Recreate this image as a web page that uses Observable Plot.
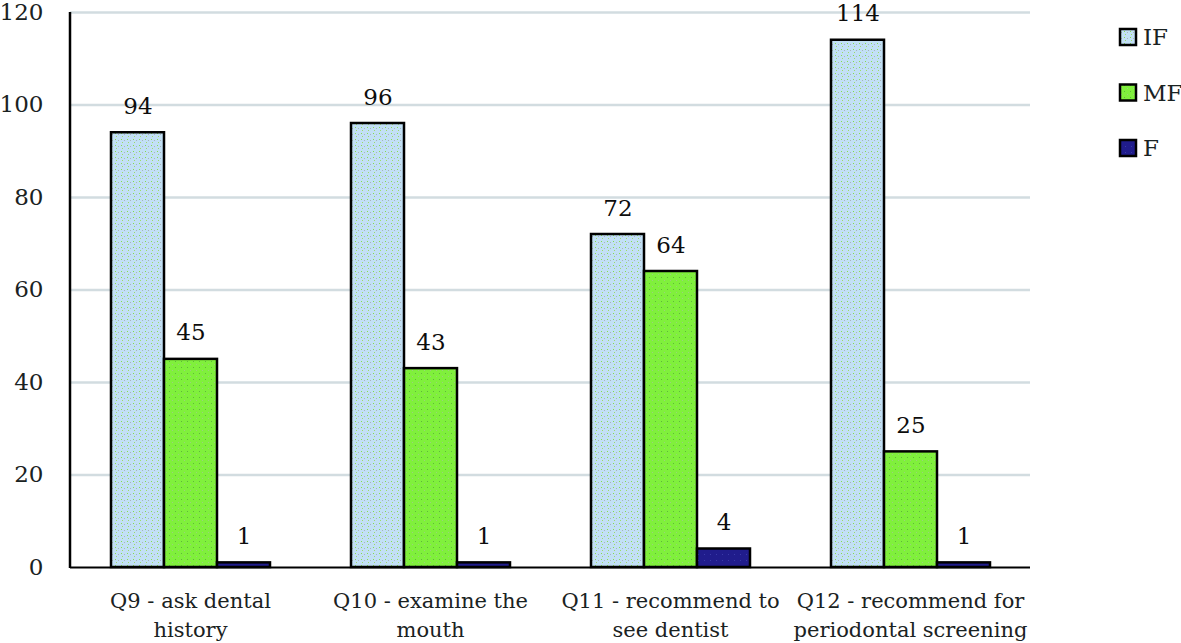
<!DOCTYPE html>
<html><head><meta charset="utf-8">
<script src="https://cdn.jsdelivr.net/npm/d3@7"></script>
<script src="https://cdn.jsdelivr.net/npm/@observablehq/plot@0.6"></script>
<style>
body{margin:0;background:#fff;}
#wrap{position:relative;width:1181px;height:643px;font-family:"DejaVu Serif",serif;color:#1c2626;}
#legend{position:absolute;left:1117px;top:0;}
</style></head><body>
<svg width="0" height="0" style="position:absolute">
  <defs>
    <pattern id="pIF" patternUnits="userSpaceOnUse" width="6" height="6">
      <rect width="6" height="6" fill="#c2e0f5"/>
      <rect x="1" y="1" width="1" height="1" fill="#86dc4e"/>
      <rect x="4" y="2" width="1" height="1" fill="#a9b4ba"/>
      <rect x="2" y="4" width="1" height="1" fill="#9fd86a"/>
    </pattern>
    <pattern id="pMF" patternUnits="userSpaceOnUse" width="6" height="6">
      <rect width="6" height="6" fill="#80f03c"/>
      <rect x="1" y="1" width="1" height="1" fill="#5fb83a"/>
      <rect x="4" y="4" width="1" height="1" fill="#9ccf80"/>
    </pattern>
    <pattern id="pF" patternUnits="userSpaceOnUse" width="6" height="6">
      <rect width="6" height="6" fill="#201c8c"/>
      <rect x="2" y="2" width="1" height="1" fill="#3a3aa8"/>
    </pattern>
  </defs>
</svg>
<div id="wrap"><div id="legend"></div></div>
<script>
const questions = ["Q9 - ask dental\nhistory", "Q10 - examine the\nmouth", "Q11 - recommend to\nsee dentist", "Q12 - recommend for\nperiodontal screening"];
const seriesNames = ["IF", "MF", "F"];
const valuesIF = [94, 96, 72, 114];
const valuesMF = [45, 43, 64, 25];
const valuesF = [1, 1, 4, 1];
const yTicks = [0, 20, 40, 60, 80, 100, 120];
const seriesFills = ["url(#pIF)", "url(#pMF)", "url(#pF)"];

const seriesValues = [valuesIF, valuesMF, valuesF];
const rows = [];
questions.forEach((q, i) => seriesNames.forEach((s, j) => rows.push({question: q, series: s, value: seriesValues[j][i]})));

const chart = Plot.plot({
  width: 1181, height: 643,
  marginLeft: 70, marginRight: 151, marginTop: 12, marginBottom: 76,
  style: {fontFamily: "'DejaVu Serif', serif", fontSize: "21px", color: "#1a2222", background: "transparent", overflow: "visible"},
  fx: {domain: questions, padding: 0, label: null},
  x: {domain: seriesNames, paddingInner: 0, paddingOuter: 0.74, axis: null},
  y: {domain: [0, 120], label: null},
  color: {domain: seriesNames, range: seriesFills},
  marks: [
    Plot.ruleY(yTicks.filter(d => d > 0), {stroke: "#d2dce0", strokeWidth: 2.5}),
    Plot.barY(rows, {fx: "question", x: "series", y: "value", fill: "series", stroke: "#000", strokeWidth: 2.5}),
    Plot.ruleY([0], {stroke: "#000", strokeWidth: 2}),
    Plot.text(rows, {fx: "question", x: "series", y: "value", text: d => String(d.value), lineAnchor: "bottom", dy: -19, fontSize: 23, fill: "#0d0d0d"}),
    Plot.axisY({ticks: yTicks, tickSize: 0, tickPadding: 27, fontSize: 23, label: null}),
    Plot.axisFx({anchor: "bottom", tickSize: 0, tickPadding: 20, lineHeight: 1.38, fontSize: 21, label: null})
  ]
});
document.getElementById("wrap").prepend(chart);

// y-axis line at the left edge of the frame, from the y scale range
const ys = chart.scale("y");
d3.select(chart).append("line")
  .attr("x1", 70).attr("x2", 70)
  .attr("y1", ys.range[0] + 1).attr("y2", ys.range[1])
  .attr("stroke", "#000").attr("stroke-width", 2.5);

// legend
const lg = d3.select("#legend").append("svg").attr("width", 64).attr("height", 170).style("overflow", "visible");
seriesNames.forEach((s, i) => {
  const cy = 37 + i * 55.5;
  lg.append("rect").attr("x", 3).attr("y", cy - 8).attr("width", 16).attr("height", 16)
    .attr("fill", seriesFills[i]).attr("stroke", "#000").attr("stroke-width", 2.5);
  lg.append("text").attr("x", 26).attr("y", cy).attr("dy", "0.35em")
    .attr("font-family", "'DejaVu Serif', serif").attr("font-size", 23).attr("fill", "#1a2222").text(s);
});
</script>
</body></html>
